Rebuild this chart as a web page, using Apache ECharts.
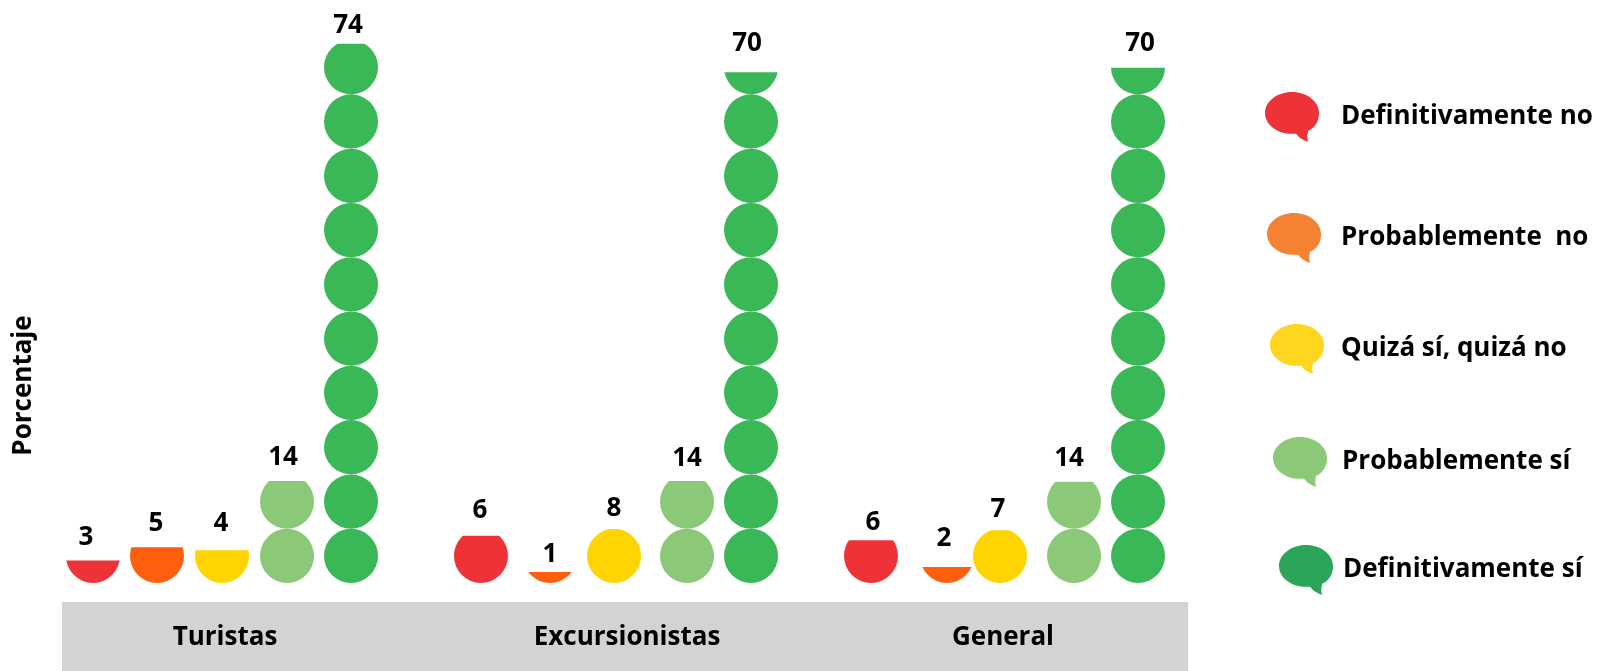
<!DOCTYPE html>
<html>
<head>
<meta charset="utf-8">
<style>
  html, body { margin: 0; padding: 0; background: #fff; overflow: hidden; }
  #chart { width: 1601px; height: 671px; }
</style>
</head>
<body>
<div id="chart"></div>
<script src="https://cdn.jsdelivr.net/npm/echarts@6/dist/echarts.min.js"></script>
<script>
var groups = ['Turistas', 'Excursionistas', 'General']
var answers = ['Definitivamente no', 'Probablemente  no', 'Quizá sí, quizá no', 'Probablemente sí', 'Definitivamente sí']

// filled height of each column
var defNo = [3.1, 6.5, 5.85]
var probNo = [4.9, 1.5, 2.2]
var quiza = [4.5, 7.4, 7.25]
var probSi = [14, 14, 13.9]
var defSi = [74, 70.1, 70.7]

// numbers printed above the columns
var defNoLabels = [3, 6, 6]
var probNoLabels = [5, 1, 2]
var quizaLabels = [4, 8, 7]
var probSiLabels = [14, 14, 14]
var defSiLabels = [74, 70, 70]

var colors = ['#EE3338', '#FF5E0E', '#FFD400', '#8BC978', '#3AB757']
var bubbleColors = ['#EE3338', '#F58233', '#FFD520', '#8BC978', '#2BA55A']
var font = 'Open Sans'
var bubble = 'path://M80 0C124 0 160 28 160 62C160 88 148 105 128 115C125 125 124 138 128 148C115 145 100 135 92 124C88 124 84 124 80 124C36 124 0 96 0 62C0 28 36 0 80 0Z'

// the original columns are placed by hand, these shift them off the regular spacing (px)
var columnShift = [[4, 0, -2], [2, 3, 8], [1, 1, -5], [0, 8, 3], [-2, 6, 1]]
var labelShift = [
    [[-3, -3], [-1, -5], [0, 2]],
    [[1, -4], [3, 3], [5, -8]],
    [[0, -7], [1, 0], [-7, -1]],
    [[-4, -3], [8, -2], [-2, -3]],
    [[-5, 2], [2, -9], [3, -4]]
]

// wider than the circles so the clip does not cut a shifted column, the negative gap keeps the spacing
var slotWidth = 74
var slotGap = '-10.8%'

function makeSeries(i, values) {
    return {
        name: answers[i],
        type: 'pictorialBar',
        data: values.map(function (v, k) {
            return { value: v, symbolOffset: [columnShift[i][k], 0] }
        }),
        symbol: 'circle',
        symbolSize: [54, 54.3],
        symbolRepeat: 'fixed',
        symbolMargin: 0,
        symbolClip: true,
        symbolBoundingData: 74.5,
        barWidth: slotWidth,
        barGap: slotGap,
        itemStyle: { color: colors[i] }
    }
}

// the clipped columns put labels at the bounding height, so an empty bar carries the number
function makeLabelSeries(i, values, labels) {
    return {
        type: 'bar',
        data: values.map(function (v, k) {
            return { value: v, label: { offset: labelShift[i][k] } }
        }),
        barWidth: slotWidth,
        barGap: slotGap,
        silent: true,
        itemStyle: { color: 'transparent' },
        label: {
            show: true,
            position: 'top',
            distance: 7,
            color: '#000',
            fontFamily: font,
            fontWeight: 'bold',
            fontSize: 26,
            formatter: function (p) { return labels[p.dataIndex] }
        }
    }
}

function makeLegend(i, left, top, gap) {
    return {
        data: [{ name: answers[i], itemStyle: { color: bubbleColors[i] } }],
        left: left,
        top: top,
        itemGap: 0,
        itemWidth: 54,
        itemHeight: 50,
        icon: bubble,
        padding: 0,
        selectedMode: false,
        textStyle: {
            color: '#000',
            fontFamily: font,
            fontWeight: 'bold',
            fontSize: 26,
            padding: [0, 0, 0, gap]
        }
    }
}

var chart = echarts.init(document.getElementById('chart'))
chart.setOption({
    animation: false,
    backgroundColor: '#fff',
    grid: { left: 25, top: 0, width: 1176, height: 583, outerBoundsMode: 'none' },
    xAxis: {
        type: 'category',
        data: [
            { value: groups[0], textStyle: { padding: [0, 0, 0, 8] } },
            { value: groups[1], textStyle: { padding: [0, 0, 0, 28] } },
            { value: groups[2], textStyle: { padding: [0, 4, 0, 0] } }
        ],
        axisLine: { show: false },
        axisTick: { show: false },
        axisLabel: {
            color: '#000',
            fontFamily: font,
            fontWeight: 'bold',
            fontSize: 26,
            margin: 42
        }
    },
    yAxis: {
        type: 'value',
        min: 0,
        max: 80,
        axisLine: { show: false },
        axisTick: { show: false },
        axisLabel: { show: false },
        splitLine: { show: false },
        name: 'Porcentaje',
        nameLocation: 'middle',
        nameRotate: 90,
        nameGap: -12,
        nameTextStyle: {
            color: '#000',
            fontFamily: font,
            fontWeight: 'bold',
            fontSize: 26,
            padding: [0, 188, 0, 0]
        }
    },
    legend: [
        makeLegend(0, 1265, 92, 17),
        makeLegend(1, 1267, 213, 15),
        makeLegend(2, 1270, 324, 12),
        makeLegend(3, 1273, 437, 10),
        makeLegend(4, 1279, 545, 5)
    ],
    graphic: [{
        type: 'rect',
        z: -1,
        shape: { x: 62, y: 602, width: 1126, height: 69 },
        style: { fill: '#D1D3D4' }
    }],
    series: [
        makeSeries(0, defNo),
        makeSeries(1, probNo),
        makeSeries(2, quiza),
        makeSeries(3, probSi),
        makeSeries(4, defSi),
        makeLabelSeries(0, defNo, defNoLabels),
        makeLabelSeries(1, probNo, probNoLabels),
        makeLabelSeries(2, quiza, quizaLabels),
        makeLabelSeries(3, probSi, probSiLabels),
        makeLabelSeries(4, defSi, defSiLabels)
    ]
})
</script>
</body>
</html>
